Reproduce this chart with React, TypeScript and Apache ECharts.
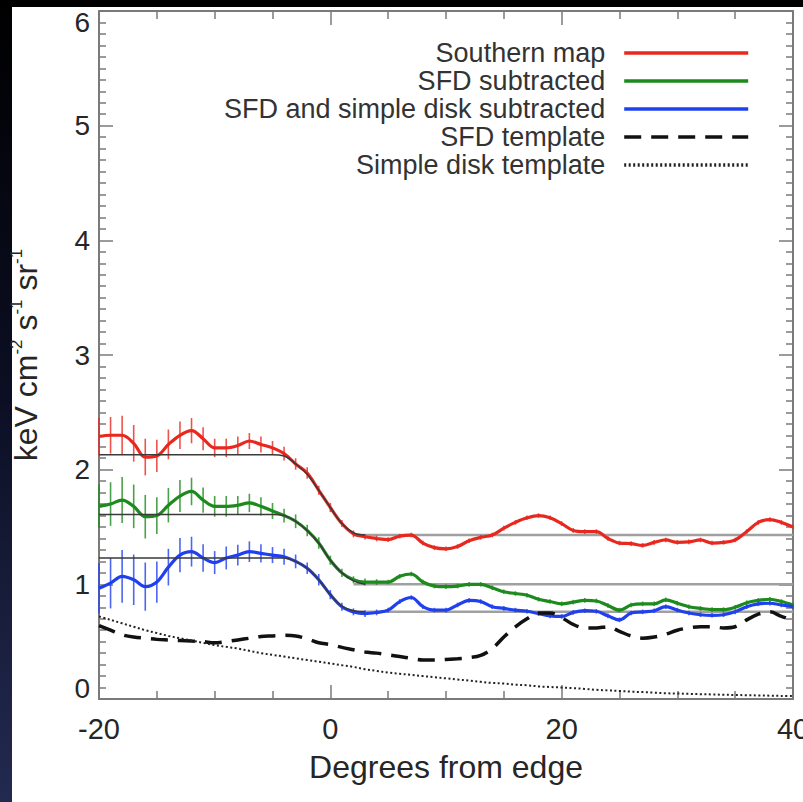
import React, { useEffect, useRef } from "react";
import * as echarts from "echarts";

const FONT = "'Liberation Sans', Arial, Helvetica, sans-serif";

const degrees = [
  -20, -19, -18, -17, -16, -15, -14, -13, -12, -11, -10, -9, -8, -7, -6, -5, -4, -3, -2, -1,
  0, 1, 2, 3, 4, 5, 6, 7, 8, 9, 10, 11, 12, 13, 14, 15, 16, 17, 18, 19,
  20, 21, 22, 23, 24, 25, 26, 27, 28, 29, 30, 31, 32, 33, 34, 35, 36, 37, 38, 39, 40,
];

const southern = [
  2.29, 2.30, 2.30, 2.23, 2.11, 2.12, 2.22, 2.30, 2.34, 2.27, 2.19, 2.19, 2.21, 2.25, 2.22, 2.19, 2.14, 2.05, 1.97, 1.82,
  1.67, 1.53, 1.44, 1.415, 1.40, 1.39, 1.42, 1.43, 1.36, 1.32, 1.31, 1.33, 1.38, 1.41, 1.43, 1.49, 1.54, 1.58, 1.60, 1.58,
  1.53, 1.47, 1.46, 1.46, 1.40, 1.36, 1.355, 1.34, 1.366, 1.387, 1.366, 1.37, 1.387, 1.36, 1.366, 1.387, 1.46, 1.54, 1.565, 1.54, 1.50,
];

const sfdSub = [
  1.68, 1.70, 1.735, 1.68, 1.59, 1.60, 1.69, 1.77, 1.81, 1.735, 1.68, 1.68, 1.69, 1.71, 1.68, 1.64, 1.60, 1.55, 1.47, 1.36,
  1.21, 1.10, 1.04, 1.02, 1.02, 1.02, 1.07, 1.09, 1.02, 0.985, 0.98, 0.985, 1.00, 1.00, 0.97, 0.935, 0.92, 0.905, 0.87, 0.85,
  0.83, 0.845, 0.86, 0.855, 0.815, 0.775, 0.82, 0.83, 0.83, 0.865, 0.835, 0.805, 0.79, 0.78, 0.78, 0.80, 0.84, 0.86, 0.87, 0.85, 0.82,
];

const sfdDiskSub = [
  0.965, 1.01, 1.07, 1.04, 0.98, 1.02, 1.15, 1.255, 1.285, 1.23, 1.19, 1.23, 1.255, 1.285, 1.27, 1.255, 1.24, 1.20, 1.14, 1.04,
  0.91, 0.805, 0.76, 0.745, 0.755, 0.775, 0.85, 0.885, 0.805, 0.775, 0.775, 0.82, 0.86, 0.85, 0.805, 0.79, 0.775, 0.765, 0.745, 0.725,
  0.72, 0.755, 0.77, 0.765, 0.725, 0.69, 0.75, 0.76, 0.77, 0.805, 0.775, 0.75, 0.735, 0.73, 0.735, 0.76, 0.805, 0.83, 0.835, 0.82, 0.805,
];

const sfdTemplate = [
  0.64, 0.60, 0.56, 0.54, 0.53, 0.52, 0.515, 0.51, 0.505, 0.50, 0.49, 0.50, 0.515, 0.53, 0.545, 0.55, 0.555, 0.55, 0.525, 0.49,
  0.475, 0.45, 0.43, 0.41, 0.40, 0.385, 0.37, 0.355, 0.34, 0.34, 0.345, 0.35, 0.36, 0.38, 0.44, 0.54, 0.63, 0.70, 0.75, 0.75,
  0.71, 0.65, 0.62, 0.62, 0.63, 0.59, 0.55, 0.53, 0.54, 0.565, 0.60, 0.62, 0.63, 0.63, 0.62, 0.63, 0.69, 0.74, 0.76, 0.72, 0.69,
];

const diskTemplate = [
  0.72, 0.69, 0.66, 0.63, 0.60, 0.575, 0.55, 0.53, 0.51, 0.49, 0.47, 0.455, 0.44, 0.42, 0.40, 0.385, 0.37, 0.355, 0.34, 0.325,
  0.31, 0.295, 0.28, 0.26, 0.245, 0.23, 0.22, 0.21, 0.20, 0.19, 0.18, 0.17, 0.16, 0.15, 0.14, 0.135, 0.125, 0.12, 0.11, 0.105,
  0.10, 0.095, 0.088, 0.08, 0.075, 0.07, 0.064, 0.06, 0.055, 0.05, 0.048, 0.045, 0.042, 0.04, 0.037, 0.035, 0.033, 0.031, 0.029, 0.027, 0.026,
];

const errSouthern = [
  0.16, 0.16, 0.17, 0.16, 0.16, 0.14, 0.13, 0.12, 0.11, 0.10, 0.08, 0.08, 0.08, 0.07, 0.07, 0.06, 0.06, 0.05, 0.05, 0.04,
  0.04, 0.03, 0.03, 0.025, 0.025, 0.02, 0.02, 0.02, 0.02, 0.02, 0.02, 0.02, 0.02, 0.02, 0.02, 0.02, 0.02, 0.02, 0.02, 0.02,
  0.02, 0.02, 0.02, 0.02, 0.02, 0.02, 0.02, 0.02, 0.02, 0.02, 0.02, 0.02, 0.02, 0.02, 0.02, 0.02, 0.02, 0.02, 0.02, 0.02, 0.02,
];
const errSfdSub = [
  0.19, 0.19, 0.20, 0.19, 0.19, 0.16, 0.15, 0.14, 0.12, 0.11, 0.09, 0.09, 0.08, 0.08, 0.08, 0.07, 0.06, 0.06, 0.05, 0.05,
  0.04, 0.035, 0.03, 0.03, 0.025, 0.02, 0.02, 0.02, 0.02, 0.02, 0.02, 0.02, 0.02, 0.02, 0.02, 0.02, 0.02, 0.02, 0.02, 0.02,
  0.02, 0.02, 0.02, 0.02, 0.02, 0.02, 0.02, 0.02, 0.02, 0.02, 0.02, 0.02, 0.02, 0.02, 0.02, 0.02, 0.02, 0.02, 0.02, 0.02, 0.02,
];
const errSfdDiskSub = [
  0.22, 0.22, 0.23, 0.22, 0.21, 0.18, 0.16, 0.15, 0.13, 0.12, 0.10, 0.10, 0.09, 0.09, 0.08, 0.07, 0.07, 0.06, 0.05, 0.05,
  0.04, 0.035, 0.03, 0.03, 0.025, 0.02, 0.02, 0.02, 0.02, 0.02, 0.02, 0.02, 0.02, 0.02, 0.02, 0.02, 0.02, 0.02, 0.02, 0.02,
  0.02, 0.02, 0.02, 0.02, 0.02, 0.02, 0.02, 0.02, 0.02, 0.02, 0.02, 0.02, 0.02, 0.02, 0.02, 0.02, 0.02, 0.02, 0.02, 0.02, 0.02,
];

// Step-model fits: left level, smooth drop, right level
const modelX = [-20, -5, -4, -3, -2, -1, 0, 1, 2, 3];
const modelSouthern = [2.13, 2.13, 2.12, 2.05, 1.96, 1.82, 1.67, 1.53, 1.45, 1.43];
const modelSfdSub = [1.61, 1.61, 1.60, 1.55, 1.47, 1.36, 1.21, 1.10, 1.03, 1.00];
const modelSfdDiskSub = [1.23, 1.23, 1.23, 1.20, 1.14, 1.04, 0.91, 0.81, 0.77, 0.76];
const levelX = [2, 40];
const levelSouthern = [1.43, 1.43];
const levelSfdSub = [1.0, 1.0];
const levelSfdDiskSub = [0.76, 0.76];

const xTicks = [-20, 0, 20, 40];
const yTicks = [0, 1, 2, 3, 4, 5, 6];

const names = [
  "Southern map",
  "SFD subtracted",
  "SFD and simple disk subtracted",
  "SFD template",
  "Simple disk template",
];

const RED = "#e8281e";
const GREEN = "#1c8a1c";
const BLUE = "#2040ee";
const AXIS = "#7a7a7a";
const TEXT = "#262626";

function pairs(xs: number[], ys: number[]) {
  return xs.map((x, i) => [x, ys[i]]);
}

function errorSeries(vals: number[], errs: number[], color: string) {
  return {
    type: "custom",
    silent: true,
    z: 2,
    encode: { x: 0, y: 1 },
    data: degrees.map((d, i) => [d, vals[i], errs[i]]),
    renderItem: (_p: any, api: any) => {
      const x = api.value(0);
      const y = api.value(1);
      const e = api.value(2);
      const lo = api.coord([x, y - e]);
      const hi = api.coord([x, y + e]);
      return {
        type: "line",
        shape: { x1: lo[0], y1: lo[1], x2: hi[0], y2: hi[1] },
        style: { stroke: color, lineWidth: 1.6, opacity: 0.8 },
      };
    },
  };
}

function modelSeries(ys: number[]) {
  return {
    type: "line",
    data: pairs(modelX, ys),
    smooth: 0.4,
    symbol: "none",
    silent: true,
    z: 4,
    lineStyle: { color: "#3a3a3a", width: 1.5 },
  };
}

function levelSeries(ys: number[]) {
  return {
    type: "line",
    data: pairs(levelX, ys),
    symbol: "none",
    silent: true,
    z: 1,
    lineStyle: { color: "#a0a0a0", width: 2.5 },
  };
}

function dataSeries(name: string, ys: number[], color: string) {
  return {
    name,
    type: "line",
    data: pairs(degrees, ys),
    smooth: 0.35,
    symbol: "none",
    showSymbol: false,
    z: 3,
    lineStyle: { color, width: 3.2 },
    itemStyle: { color },
  };
}

function xAxisBase(position: "bottom" | "top", labels: boolean) {
  return {
    type: "value",
    position,
    min: xTicks[0],
    max: xTicks[xTicks.length - 1],
    interval: 20,
    axisLine: { show: true, onZero: false, lineStyle: { color: AXIS, width: 2 } },
    axisTick: { show: true, inside: true, length: 14, lineStyle: { color: AXIS, width: 1.5 } },
    minorTick: { show: true, splitNumber: 4, length: 8, lineStyle: { color: AXIS, width: 1.5 } },
    splitLine: { show: false },
    minorSplitLine: { show: false },
    axisLabel: {
      show: labels,
      fontSize: 29,
      fontFamily: FONT,
      color: TEXT,
      margin: 15,
    },
    ...(labels
      ? {
          name: "Degrees from edge",
          nameLocation: "middle",
          nameGap: 52,
          nameTextStyle: { fontSize: 32, fontFamily: FONT, color: TEXT },
        }
      : {}),
  };
}

function yAxisBase(position: "left" | "right", labels: boolean) {
  return {
    type: "value",
    position,
    min: yTicks[0],
    max: yTicks[yTicks.length - 1],
    interval: 1,
    axisLine: { show: true, onZero: false, lineStyle: { color: AXIS, width: 2 } },
    axisTick: { show: true, inside: true, length: 14, lineStyle: { color: AXIS, width: 1.5 } },
    minorTick: { show: true, splitNumber: 10, length: 7, lineStyle: { color: AXIS, width: 1.5 } },
    splitLine: { show: false },
    minorSplitLine: { show: false },
    axisLabel: {
      show: labels,
      fontSize: 28,
      fontFamily: FONT,
      color: TEXT,
      margin: 9,
      formatter: (v: number) =>
        v === yTicks[yTicks.length - 1] ? `{top|${v}}` : v === yTicks[0] ? `{bot|${v}}` : `${v}`,
      rich: {
        top: { fontSize: 28, fontFamily: FONT, color: TEXT, padding: [22, 0, 0, 0] },
        bot: { fontSize: 28, fontFamily: FONT, color: TEXT, padding: [0, 0, 22, 0] },
      },
    },
    ...(labels
      ? {
          name: "{m|keV cm}{s|-2}{m| s}{s|-1}{m| sr}{s|-1}",
          nameLocation: "middle",
          nameRotate: 90,
          nameGap: 56,
          nameTextStyle: {
            rich: {
              m: { fontSize: 32, fontFamily: FONT, color: TEXT, lineHeight: 35 },
              s: { fontSize: 17, fontFamily: FONT, color: TEXT, verticalAlign: "top", lineHeight: 35 },
            },
          },
        }
      : {}),
  };
}

export default function App() {
  const ref = useRef<HTMLDivElement>(null);

  useEffect(() => {
    if (!ref.current) return;
    const chart = echarts.init(ref.current, undefined, { renderer: "svg" });
    const option: any = {
      animation: false,
      backgroundColor: "#ffffff",
      textStyle: { fontFamily: FONT },
      grid: {
        left: 99,
        top: 11,
        right: 10,
        bottom: 103,
        containLabel: false,
        outerBoundsMode: "none",
      },
      graphic: [
        { type: "rect", left: 0, top: 0, shape: { width: 803, height: 7 }, style: { fill: "#000000" }, silent: true },
        {
          type: "rect",
          left: 0,
          top: 0,
          shape: { width: 12, height: 802 },
          style: {
            fill: new echarts.graphic.LinearGradient(0, 0, 0, 1, [
              { offset: 0, color: "#000000" },
              { offset: 0.5, color: "#0c0f24" },
              { offset: 1, color: "#232a50" },
            ]),
          },
          silent: true,
        },
      ],
      legend: {
        orient: "vertical",
        right: 48,
        top: 34,
        align: "right",
        itemWidth: 124,
        itemHeight: 14,
        itemGap: 0,
        selectedMode: false,
        data: names,
        itemStyle: { opacity: 0, borderWidth: 0 },
        lineStyle: { width: 3.6 },
        textStyle: {
          fontSize: 27,
          lineHeight: 28,
          fontFamily: FONT,
          color: "#333333",
          padding: [0, 14, 0, 0],
        },
      },
      xAxis: [xAxisBase("bottom", true), xAxisBase("top", false)],
      yAxis: [yAxisBase("left", true), yAxisBase("right", false)],
      series: [
        levelSeries(levelSouthern),
        levelSeries(levelSfdSub),
        levelSeries(levelSfdDiskSub),
        errorSeries(southern, errSouthern, RED),
        errorSeries(sfdSub, errSfdSub, GREEN),
        errorSeries(sfdDiskSub, errSfdDiskSub, BLUE),
        dataSeries(names[0], southern, RED),
        dataSeries(names[1], sfdSub, GREEN),
        dataSeries(names[2], sfdDiskSub, BLUE),
        modelSeries(modelSouthern),
        modelSeries(modelSfdSub),
        modelSeries(modelSfdDiskSub),
        {
          name: names[3],
          type: "line",
          data: pairs(degrees, sfdTemplate),
          smooth: 0.35,
          symbol: "none",
          z: 3,
          lineStyle: { color: "#111111", width: 3.5, type: [17, 10] },
          itemStyle: { color: "#111111" },
        },
        {
          name: names[4],
          type: "line",
          data: pairs(degrees, diskTemplate),
          smooth: 0.35,
          symbol: "none",
          z: 3,
          lineStyle: { color: "#222222", width: 2, type: [2, 2.5] },
          itemStyle: { color: "#222222" },
        },
      ],
    };
    chart.setOption(option);
    return () => chart.dispose();
  }, []);

  return (
    <div
      ref={ref}
      style={{ position: "absolute", left: 0, top: 0, width: 803, height: 802 }}
    />
  );
}
